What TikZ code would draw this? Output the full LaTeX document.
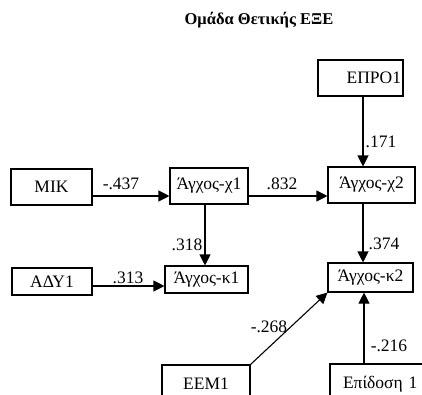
\documentclass[tikz,border=0pt]{standalone}
\usepackage{fontspec}
\setmainfont{Liberation Serif}
\usetikzlibrary{arrows.meta,calc}
\begin{document}
\begin{tikzpicture}[x=1pt,y=-1pt,
  box/.style={draw, line width=1.1pt, inner sep=0pt, font=\fontsize{17.5}{19}\selectfont},
  arr/.style={line width=1.1pt, -{Triangle[length=11pt,width=11pt]}},
  lbl/.style={inner sep=0pt, font=\fontsize{17.5}{19}\selectfont}]
\useasboundingbox (0,0) rectangle (422,394);
\clip (0,0) rectangle (422,394);
\node[font=\bfseries\fontsize{16.5}{18}\selectfont] (title) at (259,20) {Ομάδα Θετικής ΕΞΕ};
\node[box, minimum width=85, minimum height=36, text width=81, align=right] (epro) at (360.5,78) {ΕΠΡΟ1};
\node[box, minimum width=81, minimum height=36] (mik) at (51.5,187) {ΜΙΚ};
\node[box, minimum width=78, minimum height=36] (x1) at (209,186) {Άγχος-χ1};
\node[box, minimum width=87, minimum height=36] (x2) at (371.5,185) {Άγχος-χ2};
\node[box, minimum width=80, minimum height=27] (ady) at (52,281.5) {ΑΔΥ1};
\node[box, minimum width=83, minimum height=27] (k1) at (206.5,279.5) {Άγχος-κ1};
\node[box, minimum width=85, minimum height=29] (k2) at (370.5,277.5) {Άγχος-κ2};
\node[box, minimum width=88, minimum height=38] (eem) at (206,384) {ΕΕΜ1};
\node[box, minimum width=110, minimum height=40, text width=84, align=left] (epid) at (385,384) {Επίδοση 1};
\coordinate (ca) at (363,0);
\coordinate (cb) at (205,0);
\coordinate (cc) at (364,0);
\coordinate (r1) at (0,196);
\coordinate (r2) at (0,286);
\draw[arr] (epro.south -| ca) -- (x2.north -| ca);
\draw[arr] (mik.east |- r1) -- (x1.west |- r1);
\draw[arr] (x1.east |- r1) -- (x2.west |- r1);
\draw[arr] (x1.south -| cb) -- (k1.north -| cb);
\draw[arr] (x2.south -| ca) -- (k2.north -| ca);
\draw[arr] (ady.east |- r2) -- (k1.west |- r2);
\draw[arr] (eem.north east) -- (k2.south west);
\draw[arr] (epid.north -| cc) -- (k2.south -| cc);
\node[lbl] (l1) at (381,142) {.171};
\node[lbl] (l2) at (121,184) {-.437};
\node[lbl] (l3) at (282,184) {.832};
\node[lbl] (l4) at (187,245) {.318};
\node[lbl] (l5) at (384,244) {.374};
\node[lbl] (l6) at (128,277.5) {.313};
\node[lbl] (l7) at (269,327) {-.268};
\node[lbl] (l8) at (389,346) {-.216};
\end{tikzpicture}
\end{document}
